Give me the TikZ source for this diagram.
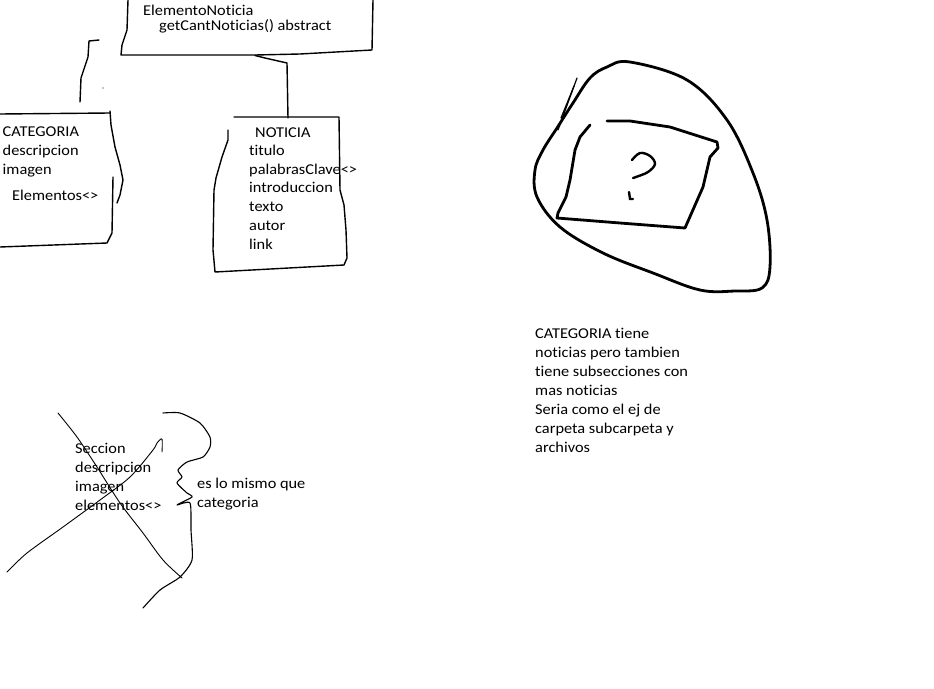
\documentclass[tikz,border=0pt]{standalone}
\usepackage{fontspec}
\setmainfont{Carlito}[FakeStretch=1.09,Ligatures=NoCommon]
\begin{document}
\begin{tikzpicture}[x=1pt,y=-1pt,
  txt/.style={anchor=base west,inner sep=0pt,font=\fontsize{15}{19}\selectfont},
  pen/.style={line width=1.4pt,line cap=round,line join=round},
  thin/.style={line width=0.9pt,line cap=round,line join=round},
  thick/.style={line width=2.8pt,line cap=round,line join=round}]
\fill[white] (0,0) rectangle (934,688);
\useasboundingbox (0,0) rectangle (934,688);

% ElementoNoticia box
\draw[pen] (128,0) -- (127,30) -- (122,45) -- (121,55) -- (255,55) -- (300,54) -- (372,50) -- (373,0);
\node[txt] (elem) at (143,15) {ElementoNoticia};
\node[txt] (getc) at (159,30) {getCantNoticias() abstract};

% connector
\coordinate (c1) at (255,55.5);
\coordinate (c2) at (287,63);
\coordinate (c3) at (288,118);
\draw[pen] (c1) -- (265,58) -- (c2) -- (c3);

% NOTICIA box
\draw[pen] (234,117) -- (339,117) -- (340,190) -- (344,205) -- (346,230) -- (347,258) -- (344,265) -- (215,272) -- (213,250) -- (214,190) -- (216,178) -- (222,157) -- (228,140) -- (228,130);
\node[txt] (not) at (255,137) {NOTICIA};
\node[txt] (n1) at (249,155) {titulo};
\node[txt] (n2) at (249,174) {palabrasClave<>};
\node[txt] (n3) at (249,192.5) {introduccion};
\node[txt] (n4) at (249,211.5) {texto};
\node[txt] (n5) at (249,230.5) {autor};
\node[txt] (n6) at (249,249) {link};

% CATEGORIA box
\draw[pen] (0,114) -- (110,113);
\draw[pen] (110,111) -- (111,125) -- (115,147) -- (120,165) -- (123,180) -- (120,195) -- (117,203);
\draw[pen] (113,177) -- (112,233) -- (107,243) -- (0,247);
\draw[pen] (99,40) -- (89,41) -- (88,57) -- (81,78) -- (80,102);
\fill (103,88) circle (0.6pt);
\node[txt] (cat) at (2.5,136) {CATEGORIA};
\node[txt] (c1t) at (2.5,155) {descripcion};
\node[txt] (c2t) at (2.5,174) {imagen};
\node[txt] (c3t) at (12,200) {Elementos<>};

% blob
\draw[thick] plot[smooth cycle,tension=0.6] coordinates {(630,62) (687,80) (727,120) (753,173) (767,220) (770,267) (762,288) (735,291) (700,290) (653,273) (603,253) (560,227) (537,197) (535,170) (543,150) (557,128) (573,103) (590,78) (607,67)};
\draw[line width=1.2pt,line cap=round] (577,78) -- (558,130);
\draw[line width=1.2pt,line cap=round] (574,86) -- (561,118);
% inner quad
\draw[thick] (607,121) -- (630,121) -- (670,127) -- (717,142) -- (718,148) -- (710,157) -- (703,187) -- (685,228) -- (620,223) -- (557,218) -- (558,213) -- (566,197) -- (570,180) -- (575,150) -- (580,137) -- (590,125);
% question mark
\draw[line width=2.4pt,line cap=round,line join=round] plot[smooth,tension=0.6] coordinates {(632,160) (640,153) (650,156) (655,164) (648,172) (636,177) (633,178)};
\draw[line width=2.4pt,line cap=round] (629,192) -- (630,199) -- (633,199);

% crossed section
\draw[thin] plot[smooth,tension=0.5] coordinates {(58,413) (77,437) (97,467) (120,503) (143,533) (163,560) (182,578)};
\draw[thin] plot[smooth,tension=0.5] coordinates {(7,572) (27,553) (63,527) (100,500) (130,477) (153,450) (157,443) (162,439) (162,452)};
\draw[line width=1.1pt,line cap=round,line join=round] plot[smooth,tension=0.4] coordinates {(163,413) (180,413) (200,423) (210,437) (210,447) (203,457) (187,462) (178,470) (182,477) (177,483) (187,493) (192,497) (177,505) (190,503) (191,530) (192,560) (180,577) (160,590) (143,608)};
\node[txt] (s0) at (75,453) {Seccion};
\node[txt] (s1) at (75,472) {descripcion};
\node[txt] (s2) at (75,491) {imagen};
\node[txt] (s3) at (75,510) {elementos<>};
\node[txt] (e1) at (197,488) {es lo mismo que};
\node[txt] (e2) at (197,507) {categoria};

% note
\node[txt] (t1) at (535,338) {CATEGORIA tiene};
\node[txt] (t2) at (535,357) {noticias pero tambien};
\node[txt] (t3) at (535,376) {tiene subsecciones con};
\node[txt] (t4) at (535,395) {mas noticias};
\node[txt] (t5) at (535,414) {Seria como el ej de};
\node[txt] (t6) at (535,433) {carpeta subcarpeta y};
\node[txt] (t7) at (535,452) {archivos};
\end{tikzpicture}
\end{document}
